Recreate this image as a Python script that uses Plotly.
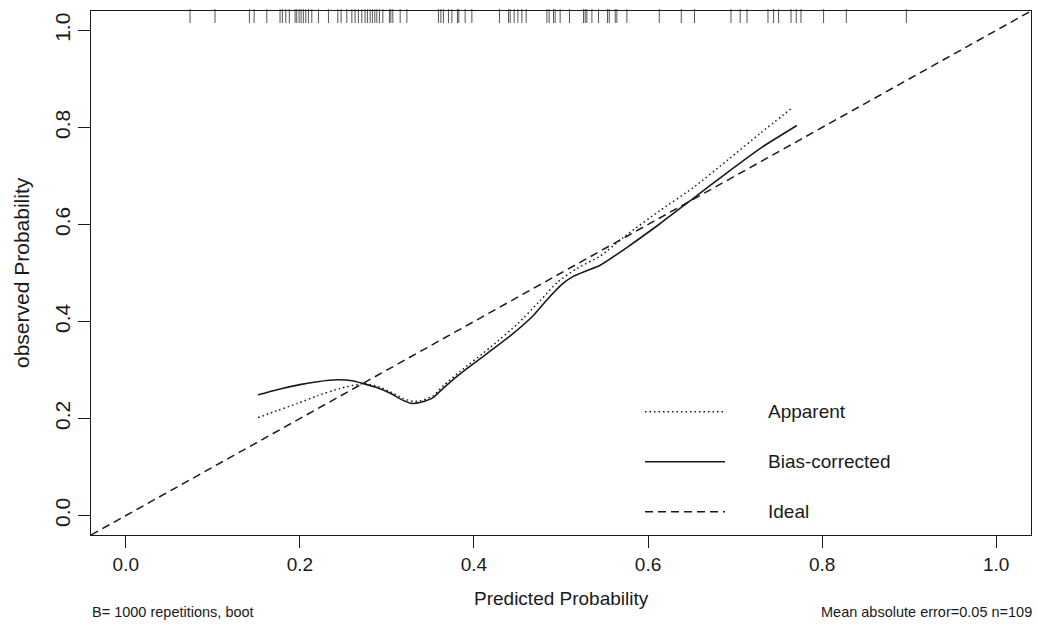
import plotly.graph_objects as go

# ---- data ----
apparent_x = [0.152, 0.175, 0.197, 0.220, 0.246, 0.273, 0.290, 0.304, 0.318, 0.331, 0.342, 0.353, 0.365, 0.384,
              0.419, 0.450, 0.476, 0.496, 0.518, 0.545, 0.575, 0.614, 0.652, 0.691, 0.729, 0.766]
apparent_y = [0.202, 0.217, 0.231, 0.247, 0.262, 0.272, 0.266, 0.255, 0.242, 0.235, 0.238, 0.247, 0.268, 0.297,
              0.347, 0.395, 0.443, 0.481, 0.509, 0.535, 0.578, 0.629, 0.676, 0.732, 0.788, 0.841]

bias_x = [0.152, 0.175, 0.200, 0.220, 0.243, 0.260, 0.273, 0.290, 0.304, 0.318, 0.329, 0.340, 0.353, 0.362,
          0.384, 0.415, 0.442, 0.468, 0.484, 0.500, 0.514, 0.530, 0.545, 0.576, 0.614, 0.652, 0.691, 0.729, 0.771]
bias_y = [0.249, 0.260, 0.270, 0.276, 0.280, 0.278, 0.272, 0.263, 0.252, 0.238, 0.231, 0.234, 0.243, 0.258,
          0.292, 0.334, 0.371, 0.412, 0.445, 0.475, 0.493, 0.505, 0.516, 0.553, 0.602, 0.654, 0.707, 0.757, 0.804]

ideal_x = [-0.04, 1.04]
ideal_y = [-0.04, 1.04]

rug_x = [0.0738, 0.1025, 0.1420, 0.1474, 0.1620, 0.1772, 0.1799, 0.1838, 0.1879, 0.1945, 0.1964, 0.1991,
         0.2014, 0.2040, 0.2068, 0.2098, 0.2137, 0.2213, 0.2328, 0.2436, 0.2474, 0.2539, 0.2597, 0.2634,
         0.2672, 0.2711, 0.2749, 0.2776, 0.2807, 0.2833, 0.2861, 0.2884, 0.2914, 0.2953, 0.3029, 0.3045,
         0.3068, 0.3152, 0.3229, 0.3592, 0.3620, 0.3649, 0.3707, 0.3746, 0.3810, 0.3826, 0.3899, 0.3976,
         0.4293, 0.4397, 0.4416, 0.4462, 0.4505, 0.4551, 0.4600, 0.4838, 0.4864, 0.4914, 0.4933, 0.4990,
         0.5098, 0.5259, 0.5278, 0.5297, 0.5355, 0.5431, 0.5534, 0.5554, 0.5623, 0.5642, 0.5757, 0.6129,
         0.6382, 0.6534, 0.6953, 0.7059, 0.7137, 0.7378, 0.7443, 0.7500, 0.7643, 0.7703, 0.7757, 0.8017,
         0.8278, 0.8968]

tick_vals = [0.0, 0.2, 0.4, 0.6, 0.8, 1.0]
tick_text = ["0.0", "0.2", "0.4", "0.6", "0.8", "1.0"]

legend_labels = ["Apparent", "Bias-corrected", "Ideal"]

x_title = "Predicted Probability"
y_title = "observed Probability"
note_left = "B= 1000 repetitions, boot"
note_right = "Mean absolute error=0.05 n=109"

# ---- layout constants ----
W, H = 1038, 625
ML, MR, MT, MB = 91, 7, 11, 90
XR = [-0.04, 1.04]
YR = [-0.04, 1.04]
plot_h = H - MT - MB
px_per_y = plot_h / (YR[1] - YR[0])
rug_len = 10
rug_y = YR[1] - (rug_len / 2) / px_per_y

FONT = "Liberation Sans, Arial, sans-serif"
INK = "#1a1a1a"
RUG = "#555555"

fig = go.Figure()

fig.add_trace(go.Scatter(x=ideal_x, y=ideal_y, mode="lines",
                         line=dict(color=INK, width=1.5, dash="8px,5px"), showlegend=False))
fig.add_trace(go.Scatter(x=apparent_x, y=apparent_y, mode="lines",
                         line=dict(color=INK, width=1.5, dash="1.5px,3px", shape="spline", smoothing=0.6),
                         showlegend=False))
fig.add_trace(go.Scatter(x=bias_x, y=bias_y, mode="lines",
                         line=dict(color=INK, width=1.6, shape="spline", smoothing=0.6), showlegend=False))
fig.add_trace(go.Scatter(x=rug_x, y=[rug_y] * len(rug_x), mode="markers",
                         marker=dict(symbol="line-ns-open", size=rug_len, color=RUG,
                                     line=dict(color=RUG, width=1)),
                         showlegend=False, cliponaxis=False))

# ---- manual legend (R style, bottom right) ----
leg_styles = [dict(dash="1.5px,3px", width=1.5), dict(dash="solid", width=1.6), dict(dash="8px,5px", width=1.5)]
leg_px_y = [411.7, 461.7, 511.7]
line_x0, line_x1, text_x = 645, 725, 766
for lab, sty, py in zip(legend_labels, leg_styles, leg_px_y):
    yp = (H - MB - py) / plot_h
    fig.add_shape(type="line", xref="paper", yref="paper",
                  x0=(line_x0 - ML) / (W - ML - MR), x1=(line_x1 - ML) / (W - ML - MR), y0=yp, y1=yp,
                  line=dict(color=INK, width=sty["width"], dash=sty["dash"]))
    fig.add_annotation(xref="paper", yref="paper", x=(text_x - ML) / (W - ML - MR), y=yp,
                       text=lab, showarrow=False, xanchor="left", yanchor="middle",
                       font=dict(family=FONT, size=19, color=INK))

# ---- titles and notes ----
fig.add_annotation(xref="paper", yref="paper", x=0.5, y=-(598 - (H - MB)) / plot_h, text=x_title,
                   showarrow=False, xanchor="center", yanchor="middle", font=dict(family=FONT, size=19, color=INK))
fig.add_annotation(xref="paper", yref="paper", x=-(ML - 21) / (W - ML - MR), y=0.5, text=y_title, textangle=-90,
                   showarrow=False, xanchor="center", yanchor="middle", font=dict(family=FONT, size=21, color=INK))
fig.add_annotation(xref="paper", yref="paper", x=-(ML - 90) / (W - ML - MR), y=-(612 - (H - MB)) / plot_h,
                   text=note_left, showarrow=False, xanchor="left", yanchor="middle",
                   font=dict(family=FONT, size=14.5, color=INK))
fig.add_annotation(xref="paper", yref="paper", x=(1034 - ML) / (W - ML - MR), y=-(612 - (H - MB)) / plot_h,
                   text=note_right, showarrow=False, xanchor="right", yanchor="middle",
                   font=dict(family=FONT, size=14.5, color=INK))

axis_common = dict(showline=True, mirror=True, linecolor=INK, linewidth=1.2, showgrid=False, zeroline=False,
                   ticks="outside", ticklen=12, tickwidth=1.2, tickcolor=INK,
                   tickvals=tick_vals, ticktext=tick_text)

fig.update_layout(
    width=W, height=H,
    margin=dict(l=ML, r=MR, t=MT, b=MB, pad=0),
    paper_bgcolor="white", plot_bgcolor="white",
    xaxis=dict(range=XR, tickfont=dict(family=FONT, size=19, color=INK), **axis_common),
    yaxis=dict(range=YR, tickangle=-90, tickfont=dict(family=FONT, size=21, color=INK), **axis_common),
    showlegend=False,
)

fig.write_html("out.html")
